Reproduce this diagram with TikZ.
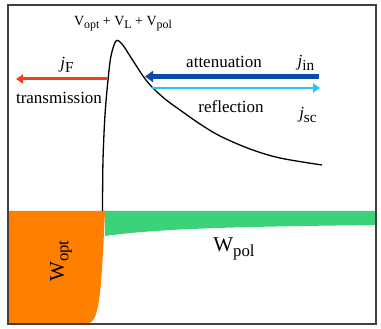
\documentclass[tikz,border=0pt]{standalone}
\usepackage{fontspec}
\usepackage{graphicx}
\setmainfont{Liberation Serif}
\usetikzlibrary{arrows.meta}
\definecolor{fluxred}{HTML}{F0401E}
\definecolor{fluxblue}{HTML}{0A4BA5}
\definecolor{fluxcyan}{HTML}{1EC8F0}
\definecolor{optorange}{HTML}{FF7F00}
\definecolor{polgreen}{HTML}{3CD27A}
\definecolor{framegray}{HTML}{404040}
\newcommand{\lowsub}[2][0.85]{\raisebox{-0.45ex}{\scalebox{#1}{#2}}}

\begin{document}
\begin{tikzpicture}[
  x=1pt, y=-1pt,
  lbl/.style={font=\fontsize{17}{20}\selectfont, inner sep=0pt},
  small/.style={font=\fontsize{14}{17}\selectfont, inner sep=0pt},
  big/.style={font=\fontsize{21}{24}\selectfont, inner sep=0pt},
  arr/.style={-{Triangle[length=7pt, width=9pt]}, line width=3pt},
  curve/.style={draw=black, line width=1.3pt},
  frame/.style={draw=framegray, line width=1.3pt},
]
\useasboundingbox (0,0) rectangle (381,329);
% filled regions
\fill[optorange] (8,211) -- (105,211) .. controls (101,300) and (99,320) .. (88,324) -- (8,324) -- cycle;
\fill[polgreen] (105,211) -- (376,211) -- (376,225) .. controls (200,227) and (150,230) .. (105,236) -- cycle;
\draw[frame] (8,5) rectangle (376,324);
% potential
\draw[curve] plot[smooth, tension=0.55] coordinates {(102.5,211) (103,160) (105,115) (108,80) (111,56) (116,41) (122,44) (130,56) (143,76) (152,87) (165,99) (180,110) (200,124) (220,136) (250,149) (280,158) (322,165)};
% arrow ends
\coordinate (fstart) at (107,79);
\coordinate (fend) at (16,79);
\coordinate (instart) at (319,76.5);
\coordinate (inend) at (145,76.5);
\coordinate (scstart) at (152,88);
\coordinate (scend) at (320,88);
\draw[arr, draw=fluxred, fill=fluxred] (fstart) -- (fend);
\draw[arr, draw=fluxblue, fill=fluxblue, line width=4.5pt, -{Triangle[length=8pt, width=11pt]}] (instart) -- (inend);
\draw[arr, draw=fluxcyan, fill=fluxcyan, line width=2.5pt] (scstart) -- (scend);
% labels
\node[small] (vsum) at (123,24) {V\lowsub{opt} + V\lowsub{L} + V\lowsub{pol}};
\node[lbl] (jf) at (67,65) {\textit{j}\lowsub[0.9]{F}};
\node[lbl] (trans) at (59,98) {transmission};
\node[lbl] (atten) at (224,62) {attenuation};
\node[lbl] (jin) at (306,63) {\textit{j}\lowsub[0.9]{in}};
\node[lbl] (refl) at (231,107) {reflection};
\node[lbl] (jsc) at (308,115) {\textit{j}\lowsub[0.9]{sc}};
\node[big, rotate=90] (wopt) at (61,261) {W\lowsub[0.8]{opt}};
\node[big] (wpol) at (234,249) {W\lowsub[0.8]{pol}};
\end{tikzpicture}
\end{document}
